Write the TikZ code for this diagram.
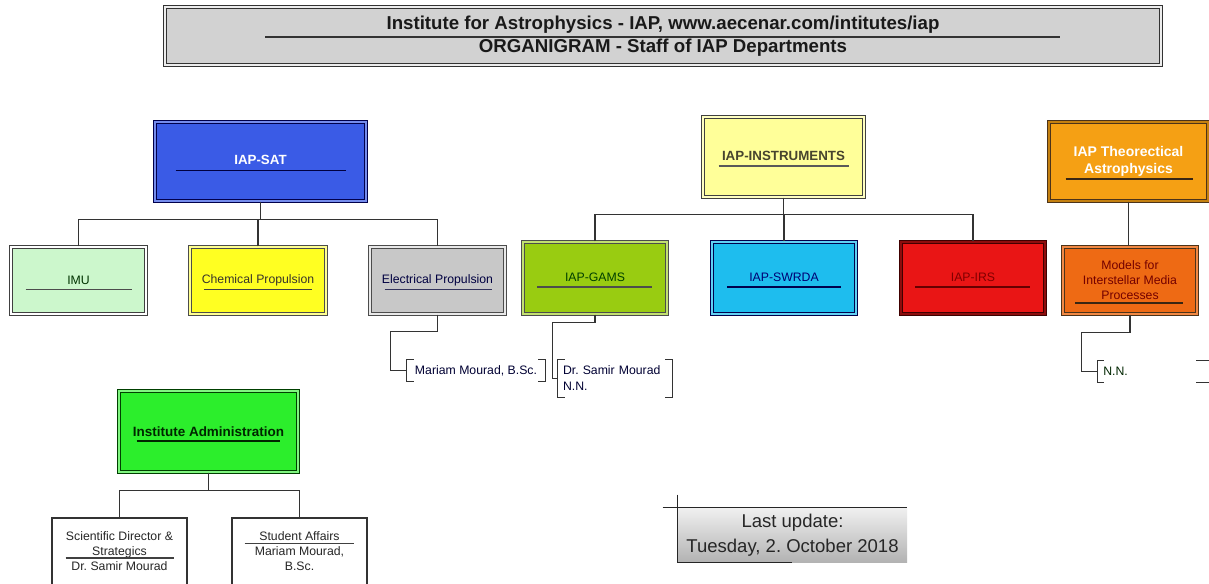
\documentclass[tikz,border=0pt]{standalone}
\usepackage{fontspec}
\setmainfont{Liberation Sans}
\usetikzlibrary{calc}
\definecolor{titlegray}{HTML}{D2D2D2}
\definecolor{satblue}{HTML}{3A5BE6}
\definecolor{imugreen}{HTML}{CCF7CC}
\definecolor{chemyellow}{HTML}{FFFF22}
\definecolor{elecgray}{HTML}{C8C8C8}
\definecolor{instryellow}{HTML}{FFFF99}
\definecolor{gamsgreen}{HTML}{99CC11}
\definecolor{swrdacyan}{HTML}{1EBDEE}
\definecolor{irsred}{HTML}{E91515}
\definecolor{theoorange}{HTML}{F5A014}
\definecolor{modorange}{HTML}{EE6A14}
\definecolor{admgreen}{HTML}{2CEE2C}
\definecolor{linec}{HTML}{333333}
\frenchspacing
\begin{document}
\begin{tikzpicture}[x=0.75pt,y=-0.75pt,
  dbox/.style={rectangle,inner sep=0pt,line width=0.9pt,double distance=0.8pt,
    font=\fontsize{9.2}{11}\selectfont},
  sbox/.style={dbox,minimum width=101.25pt,minimum height=50.25pt},
  ibox/.style={dbox,minimum width=108pt,minimum height=54pt},
  conn/.style={draw=linec,line width=0.9pt},
  ul/.style={line width=0.8pt},
  brk/.style={draw=linec,line width=0.8pt},
  txt/.style={inner sep=0pt,font=\fontsize{9.2}{11.25}\selectfont,text=black!85}
  ]
\useasboundingbox (0,0) rectangle (1209,583);
\clip (0,0) rectangle (1209,583);
\fill[white] (0,0) rectangle (1209,583);

% Title
\node[dbox,draw=black!80,double=white!60!titlegray,fill=titlegray,
  minimum width=747pt,minimum height=43.5pt,align=center,
  font=\fontsize{14}{17.25}\selectfont\bfseries,text=black!90] (title) at (663,36)
  {Institute for Astrophysics - IAP, www.aecenar.com/intitutes/iap\\ORGANIGRAM - Staff of IAP Departments};
\draw[ul,black!80] ($(title.center)+(-398,1)$) -- ++(795,0);

% IAP-SAT branch
\node[dbox,draw=blue!30!black,double=satblue!70!white,fill=satblue,
  minimum width=158.25pt,minimum height=59.25pt,text=white,
  font=\fontsize{10}{12}\selectfont\bfseries] (sat) at (260.5,161.5) {\raisebox{2pt}{IAP-SAT}};
\draw[ul,blue!25!black] ($(sat.center)+(-85,9)$) -- ++(170,0);

\node[sbox,draw=black!75,double=white,fill=imugreen,text=green!20!black] (imu) at (78.5,280.5) {IMU};
\draw[ul,black!70] ($(imu.center)+(-53,9)$) -- ++(106,0);
\node[sbox,draw=black!70,double=white!50!chemyellow,fill=chemyellow,minimum width=102pt,text=black!80!olive] (chem) at (258,280.5) {Chemical Propulsion};
\draw[ul,black!75] ($(chem.center)+(-54,9)$) -- ++(108,0);
\node[sbox,draw=black!70,double=white!60!elecgray,fill=elecgray,text=blue!25!black] (elec) at (437.5,280.5) {Electrical Propulsion};
\draw[ul,blue!20!black!80] ($(elec.center)+(-53,9)$) -- ++(107,0);

\draw[conn] (sat.south) -- ++(0,18) coordinate (satbar);
\draw[conn] (imu.north) |- (satbar) -| (elec.north);
\draw[conn] (chem.north) -- (chem.north |- satbar);

% IAP-INSTRUMENTS branch
\node[dbox,draw=black!75,double=white!40!instryellow,fill=instryellow,
  minimum width=120.75pt,minimum height=60pt,text=black!65!olive,
  font=\fontsize{10}{12}\selectfont\bfseries] (instr) at (783.5,157) {\raisebox{1.5pt}{IAP-INSTRUMENTS}};
\draw[ul,black!65] ($(instr.center)+(-65,9)$) -- ++(130,0);

\node[ibox,draw=black!70,double=white!40!gamsgreen,fill=gamsgreen,text=green!25!black] (gams) at (595,278) {\raisebox{1.5pt}{IAP-GAMS}};
\draw[ul,black!70] ($(gams.center)+(-58,9)$) -- ++(115,0);
\node[ibox,draw=blue!30!black,double=swrdacyan!70!white,fill=swrdacyan,text=blue!45!black] (swrda) at (784,278) {\raisebox{1.5pt}{IAP-SWRDA}};
\draw[ul,blue!30!black] ($(swrda.center)+(-57,9)$) -- ++(114,0);
\node[ibox,draw=red!25!black,double=irsred!60!black,fill=irsred,text=red!50!black] (irs) at (973,278) {\raisebox{1.5pt}{IAP-IRS}};
\draw[ul,red!40!black] ($(irs.center)+(-58,9)$) -- ++(115,0);

\draw[conn] (instr.south) -- ++(0,17) coordinate (instrbar);
\draw[conn] (gams.north) |- (instrbar) -| (irs.north);
\draw[conn] (swrda.north) -- (swrda.north |- instrbar);

% Theoretical branch
\node[dbox,draw=brown!40!black,double=theoorange!80!black,fill=theoorange,
  minimum width=119.25pt,minimum height=59.25pt,text=white,align=center,
  font=\fontsize{10.5}{12.75}\selectfont\bfseries] (theo) at (1128.5,161.5) {IAP Theorectical\\Astrophysics};
\draw[ul,brown!30!black] ($(theo.center)+(-63,17.5)$) -- ++(127,0);
\node[sbox,draw=brown!40!black,double=modorange!80!white,fill=modorange,minimum width=100.5pt,
  text=red!45!black,align=center,font=\fontsize{9.2}{11.25}\selectfont] (models) at (1130,280.5)
  {Models for\\Interstellar Media\\Processes};
\draw[ul,brown!30!black] ($(models.center)+(-55,22.5)$) -- ++(108,0);
\draw[conn] (theo.south) -- (theo.south |- models.north);

% Personnel brackets
\node[txt,minimum width=103.5pt,minimum height=15.75pt,text=blue!20!black] (mariam) at (476,370.5) {Mariam Mourad, B.Sc.};
\draw[brk] ($(mariam.north west)+(7,0)$) -- (mariam.north west) -- (mariam.south west) -- ++(7,0);
\draw[brk] ($(mariam.north east)+(-7,0)$) -- (mariam.north east) -- (mariam.south east) -- ++(-7,0);
\draw[conn] (elec.south) -- ++(0,17) -| ($(mariam.west)+(-16,0)$) -- (mariam.west);

\node[txt,text width=78pt,inner xsep=3.75pt,minimum height=27.75pt,align=left,
  font=\fontsize{9.2}{12}\selectfont,text=blue!20!black] (samir) at (615,378.5) {Dr. Samir Mourad\\N.N.};
\draw[brk] ($(samir.north west)+(7,0)$) -- (samir.north west) -- (samir.south west) -- ++(7,0);
\draw[brk] ($(samir.north east)+(-7,0)$) -- (samir.north east) -- (samir.south east) -- ++(-7,0);
\draw[conn] (gams.south) -- ++(0,8) -| ($(samir.west)+(-5,0)$) -- (samir.west);

\node[txt,text width=76pt,inner xsep=4pt,minimum height=15.75pt,align=left,text=green!15!black] (nn) at (1154,371.5) {N.N.};
\draw[brk] ($(nn.north west)+(6,0)$) -- (nn.north west) -- (nn.south west) -- ++(6,0);
\draw[brk] ($(nn.north east)+(-14,0)$) -- (nn.north east) -- (nn.south east) -- ++(-14,0);
\draw[conn] (models.south) -- ++(0,18) -| ($(nn.west)+(-16,0)$) -- (nn.west);

% Institute Administration
\node[dbox,draw=green!25!black,double=admgreen!60!white,fill=admgreen,
  minimum width=134.25pt,minimum height=60.75pt,text=green!15!black,
  font=\fontsize{10.1}{12}\selectfont\bfseries] (admin) at (208.5,431.5) {Institute Administration};
\draw[ul,green!15!black] ($(admin.center)+(-72,9.5)$) -- ++(143,0);

\node[rectangle,draw=black!80,line width=0.8pt,fill=white,minimum width=101.25pt,minimum height=61.5pt] (sci) at (119.5,559) {};
\node[txt,align=center] (scit) at (119.5,551) {Scientific Director \&\\Strategics\\Dr. Samir Mourad};
\draw[ul,black!75] ($(scit.center)+(-54,7)$) -- ++(108,0);
\node[rectangle,draw=black!80,line width=0.8pt,fill=white,minimum width=101.25pt,minimum height=61.5pt] (stu) at (299.5,559) {};
\node[txt,align=center] (stut) at (299.5,551) {Student Affairs\\Mariam Mourad,\\B.Sc.};
\draw[ul,black!75] ($(stut.center)+(-55,-7.5)$) -- ++(109,0);

\draw[conn] (admin.south) -- ++(0,18) coordinate (admbar);
\draw[conn] (sci.north) |- (admbar) -| (stu.north);

% Last update
\node[rectangle,inner sep=0pt,top color=gray!12,bottom color=gray!60,
  minimum width=171.75pt,minimum height=40.5pt,align=center,
  font=\fontsize{13.9}{18.75}\selectfont,text=black!85] (lu) at (792.5,535) {Last update:\\Tuesday, 2. October 2018};
\draw[line width=0.8pt,black!85] ($(lu.north west)+(-15,0)$) -- (lu.north east);
\draw[line width=0.8pt,black!85] ($(lu.north west)+(0,-13)$) -- (lu.south west) -- ++(114,0);
\end{tikzpicture}
\end{document}
